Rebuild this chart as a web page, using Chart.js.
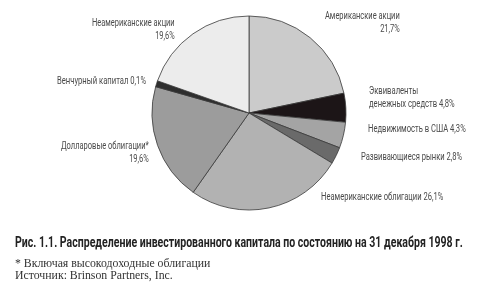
<!DOCTYPE html>
<html><head><meta charset="utf-8">
<script src="https://cdn.jsdelivr.net/npm/chart.js@4/dist/chart.umd.min.js"></script>
<style>
html,body{margin:0;padding:0;background:#fff;}
#wrap{position:relative;width:480px;height:288px;overflow:hidden;}
canvas{position:absolute;left:0;top:0;}
.lbl{position:absolute;font-family:"Roboto","Liberation Sans",sans-serif;font-size:10.5px;color:#4a4a4a;line-height:13px;white-space:nowrap;}
.r{text-align:right;}
#cap{position:absolute;left:15px;top:234px;font-family:"Roboto","Liberation Sans",sans-serif;font-weight:bold;font-size:14px;color:#222;white-space:nowrap;transform-origin:left center;}
.note{position:absolute;left:15px;font-family:"Liberation Serif","DejaVu Serif",serif;font-size:11.8px;color:#333;white-space:nowrap;}
</style></head>
<body><div id="wrap"><canvas id="c" width="480" height="288"></canvas>
<div class="lbl r" data-w="83" data-o="right" style="right:305px;top:16px;">Неамериканские акции<br>19,6%</div>
<div class="lbl" data-w="89" data-o="left" style="left:57px;top:74px;">Венчурный капитал 0,1%</div>
<div class="lbl r" data-w="88" data-o="right" style="right:331px;top:139px;">Долларовые облигации*<br>19,6%</div>
<div class="lbl r" data-w="75" data-o="right" style="right:80px;top:9px;">Американские акции<br>21,7%</div>
<div class="lbl" data-w="86" data-o="left" style="left:369px;top:84px;">Эквиваленты<br>денежных средств 4,8%</div>
<div class="lbl" data-w="98" data-o="left" style="left:368px;top:122px;">Недвижимость в США 4,3%</div>
<div class="lbl" data-w="101" data-o="left" style="left:361px;top:150px;">Развивающиеся рынки 2,8%</div>
<div class="lbl" data-w="122" data-o="left" style="left:321px;top:190px;">Неамериканские облигации 26,1%</div>
<div id="cap" data-w="448" data-o="left">Рис. 1.1. Распределение инвестированного капитала по состоянию на 31 декабря 1998 г.</div>
<div class="note" style="top:256px;">* Включая высокодоходные облигации</div>
<div class="note" style="top:268px;">Источник: Brinson Partners, Inc.</div>
</div>
<script>
const categories = ["Американские акции","Эквиваленты денежных средств","Недвижимость в США","Развивающиеся рынки","Неамериканские облигации","Долларовые облигации","Венчурный капитал","Неамериканские акции"];
const shares = [21.7, 4.8, 4.3, 2.8, 26.1, 19.6, 1.0, 19.6];
const sliceColors = ["#cbcbcb","#1c1517","#a4a4a4","#6a6a6a","#b2b2b2","#9c9c9c","#2e2e2e","#ececec"];
// condense text to mimic the narrow typeface of the original
document.querySelectorAll('[data-w]').forEach(el => {
  const nat = el.scrollWidth;
  const s = parseFloat(el.dataset.w) / nat;
  el.style.transformOrigin = el.dataset.o + ' center';
  el.style.transform = 'scaleX(' + s + ')';
});
new Chart(document.getElementById('c'), {
  type: 'pie',
  data: { labels: categories, datasets: [{ data: shares, backgroundColor: sliceColors, borderColor: '#3a3a3a', borderWidth: 0.8 }] },
  options: {
    responsive: false, animation: false, radius: 97,
    layout: { padding: { left: 18, right: 0, top: 0, bottom: 62 } },
    plugins: { legend: { display: false }, tooltip: { enabled: false } }
  }
});
</script></body></html>
